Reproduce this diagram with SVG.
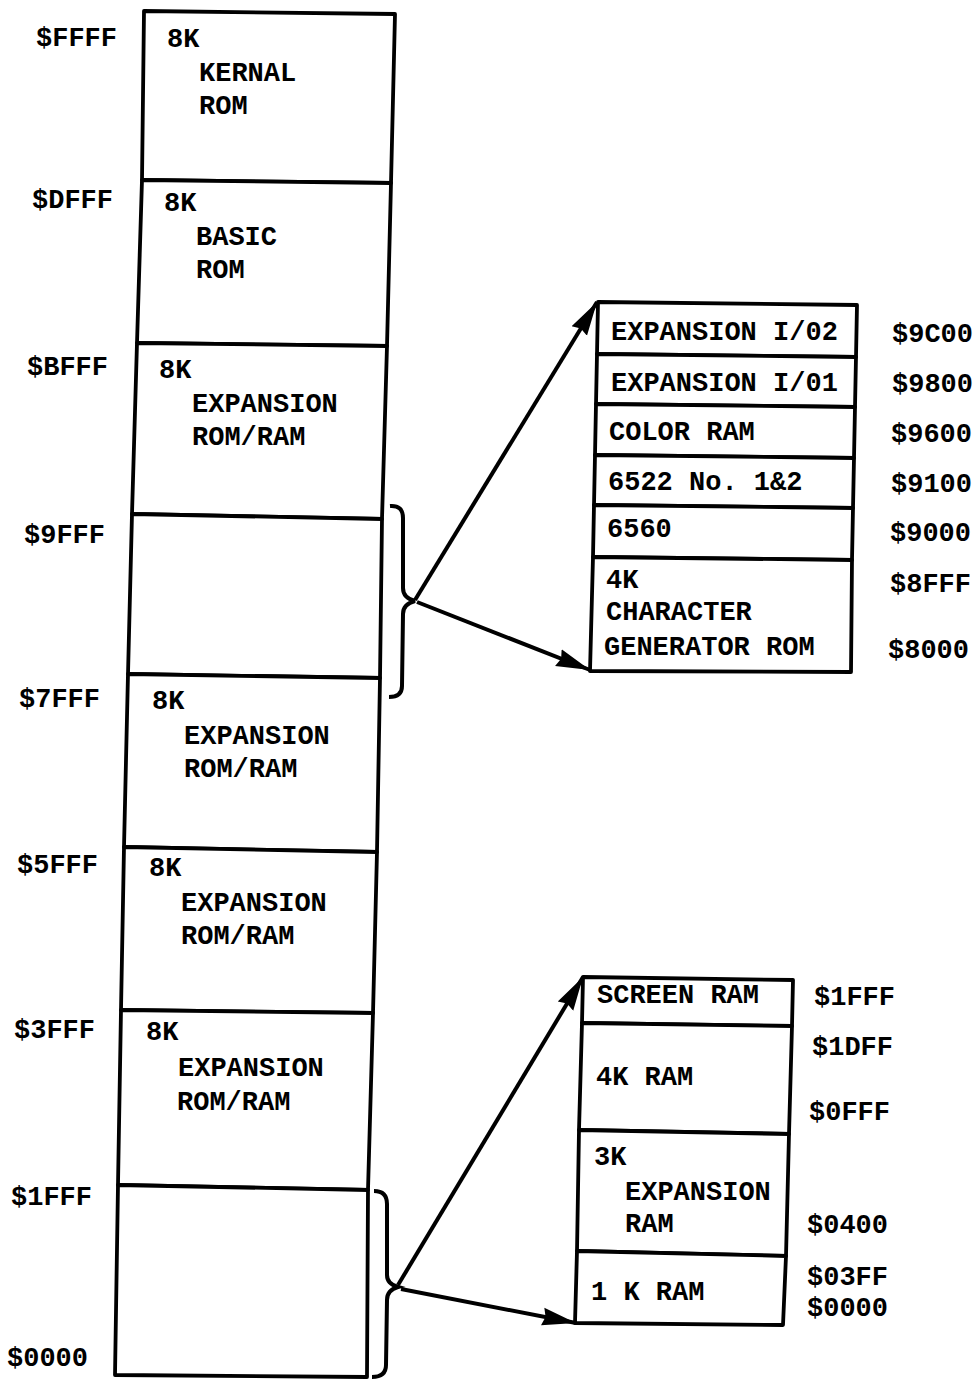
<svg xmlns="http://www.w3.org/2000/svg" width="980" height="1379" viewBox="0 0 980 1379">
<style>
  .sec { fill: #fff; stroke: #000; stroke-width: 3.8; stroke-linejoin: round; }
  .t { font-family: "Liberation Mono", "DejaVu Sans Mono", monospace; font-size: 27px; font-weight: bold; fill: #000; }
  .tr { font-family: "Liberation Mono", "DejaVu Sans Mono", monospace; font-size: 27px; font-weight: bold; fill: #000; }
  .conn { fill: none; stroke: #000; stroke-width: 4; }
</style>
<defs>
  <marker id="ah" markerUnits="userSpaceOnUse" markerWidth="36" markerHeight="22" refX="34" refY="11" orient="auto">
    <path d="M0,2 L34,11 L0,20 L3,11 Z" fill="#000"/>
  </marker>
</defs>
<rect width="980" height="1379" fill="#fff"/>

<!-- Main memory column -->
<g id="kernal">
  <polygon class="sec" points="144,11 395,14 391,183 142,180"/>
  <text class="t" x="167" y="47">8K</text>
  <text class="t" x="199" y="81">KERNAL</text>
  <text class="t" x="199" y="114">ROM</text>
</g>
<g id="basic">
  <polygon class="sec" points="142,180 391,183 387,346 137,343"/>
  <text class="t" x="164" y="211">8K</text>
  <text class="t" x="196" y="245">BASIC</text>
  <text class="t" x="196" y="278">ROM</text>
</g>
<g id="exp_a000">
  <polygon class="sec" points="137,343 387,346 382,519 132,514"/>
  <text class="t" x="159" y="378">8K</text>
  <text class="t" x="192" y="412">EXPANSION</text>
  <text class="t" x="192" y="445">ROM/RAM</text>
</g>
<g id="io_8000">
  <polygon class="sec" points="132,514 382,519 380,678 128,674"/>
</g>
<g id="exp_6000">
  <polygon class="sec" points="128,674 380,678 377,852 124,847"/>
  <text class="t" x="152" y="709">8K</text>
  <text class="t" x="184" y="744">EXPANSION</text>
  <text class="t" x="184" y="777">ROM/RAM</text>
</g>
<g id="exp_4000">
  <polygon class="sec" points="124,847 377,852 373,1013 121,1010"/>
  <text class="t" x="149" y="876">8K</text>
  <text class="t" x="181" y="911">EXPANSION</text>
  <text class="t" x="181" y="944">ROM/RAM</text>
</g>
<g id="exp_2000">
  <polygon class="sec" points="121,1010 373,1013 368,1190 118,1185"/>
  <text class="t" x="146" y="1040">8K</text>
  <text class="t" x="178" y="1076">EXPANSION</text>
  <text class="t" x="177" y="1110">ROM/RAM</text>
</g>
<g id="ram_0000">
  <polygon class="sec" points="118,1185 368,1190 367,1377 115,1375"/>
</g>

<!-- Left address labels -->
<g id="addr_left">
  <text class="t" x="36" y="46">$FFFF</text>
  <text class="t" x="32" y="208">$DFFF</text>
  <text class="t" x="27" y="375">$BFFF</text>
  <text class="t" x="24" y="543">$9FFF</text>
  <text class="t" x="19" y="707">$7FFF</text>
  <text class="t" x="17" y="873">$5FFF</text>
  <text class="t" x="14" y="1038">$3FFF</text>
  <text class="t" x="11" y="1205">$1FFF</text>
  <text class="t" x="7" y="1366">$0000</text>
</g>

<!-- Upper detail box ($8000-$9FFF) -->
<g id="io_detail">
  <polygon class="sec" points="598,302 857,305 856,357 597,354"/>
  <polygon class="sec" points="597,354 856,357 855,407 596,404"/>
  <polygon class="sec" points="596,404 855,407 854,458 595,455"/>
  <polygon class="sec" points="595,455 854,458 853,508 594,505"/>
  <polygon class="sec" points="594,505 853,508 852,560 593,557"/>
  <polygon class="sec" points="593,557 852,560 851,672 590,671"/>
  <text class="tr" x="611" y="340">EXPANSION I/02</text>
  <text class="tr" x="611" y="391">EXPANSION I/01</text>
  <text class="tr" x="609" y="440">COLOR RAM</text>
  <text class="tr" x="608" y="490">6522 No. 1&amp;2</text>
  <text class="tr" x="607" y="537">6560</text>
  <text class="tr" x="606" y="588">4K</text>
  <text class="tr" x="606" y="620">CHARACTER</text>
  <text class="tr" x="604" y="655">GENERATOR ROM</text>
  <text class="t" x="892" y="342">$9C00</text>
  <text class="t" x="892" y="392">$9800</text>
  <text class="t" x="891" y="442">$9600</text>
  <text class="t" x="891" y="492">$9100</text>
  <text class="t" x="890" y="541">$9000</text>
  <text class="t" x="890" y="592">$8FFF</text>
  <text class="t" x="888" y="658">$8000</text>
</g>

<!-- Lower detail box ($0000-$1FFF) -->
<g id="ram_detail">
  <polygon class="sec" points="583,977 793,980 792,1026 582,1023"/>
  <polygon class="sec" points="582,1023 792,1026 789,1134 579,1130"/>
  <polygon class="sec" points="579,1130 789,1134 786,1256 577,1251"/>
  <polygon class="sec" points="577,1251 786,1256 783,1325 575,1323"/>
  <text class="tr" x="597" y="1003">SCREEN RAM</text>
  <text class="tr" x="596" y="1085">4K RAM</text>
  <text class="tr" x="594" y="1165">3K</text>
  <text class="tr" x="625" y="1200">EXPANSION</text>
  <text class="tr" x="625" y="1232">RAM</text>
  <text class="tr" x="591" y="1300">1 K RAM</text>
  <text class="t" x="814" y="1005">$1FFF</text>
  <text class="t" x="812" y="1055">$1DFF</text>
  <text class="t" x="809" y="1120">$0FFF</text>
  <text class="t" x="807" y="1233">$0400</text>
  <text class="t" x="807" y="1285">$03FF</text>
  <text class="t" x="807" y="1316">$0000</text>
</g>

<!-- Connectors: braces and arrows -->
<g id="connectors">
  <path class="conn" d="M390,506 Q403,505 403,518 L403,588 Q403,598 415,601 Q403,604 403,614 L402,686 Q402,697 389,697"/>
  <path class="conn" d="M374,1191 Q387,1191 387,1204 L387,1275 Q387,1284 398,1287 Q387,1290 387,1300 L386,1365 Q386,1377 372,1377"/>
  <line class="conn" x1="415" y1="600" x2="597" y2="302" marker-end="url(#ah)"/>
  <line class="conn" x1="417" y1="602" x2="590" y2="670" marker-end="url(#ah)"/>
  <line class="conn" x1="398" y1="1285" x2="583" y2="977" marker-end="url(#ah)"/>
  <line class="conn" x1="401" y1="1289" x2="576" y2="1323" marker-end="url(#ah)"/>
</g>
</svg>
